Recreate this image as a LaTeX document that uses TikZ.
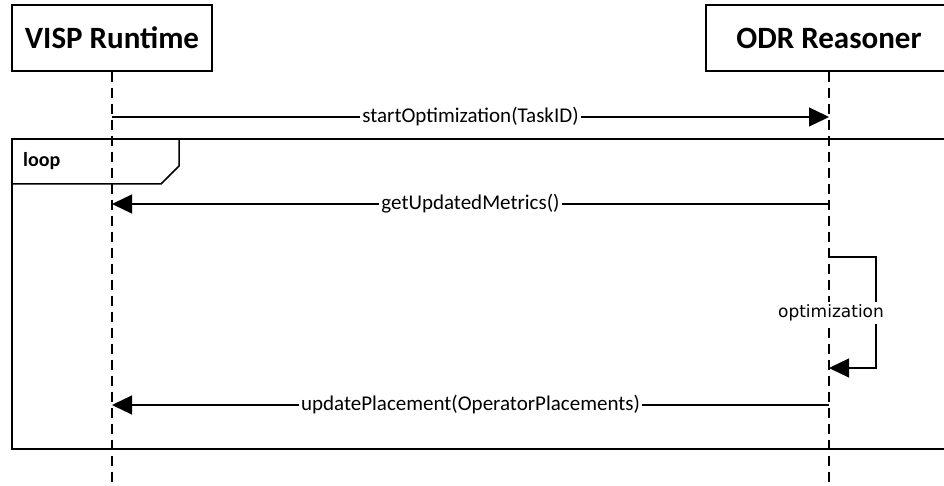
\documentclass[tikz,border=0pt]{standalone}
\usepackage{fontspec}
\setmainfont{Carlito}
\newfontfamily\selffont{DejaVu Sans}
\usetikzlibrary{arrows.meta}

\tikzset{
  actor/.style={draw, line width=1.3pt, fill=white, inner sep=0pt,
    minimum height=66pt, font=\fontsize{31}{35}\selectfont\bfseries},
  lifeline/.style={line width=1.3pt, dash pattern=on 10pt off 6pt},
  msg/.style={line width=1.3pt, -{Triangle[length=20pt,width=19pt]}},
  msglabel/.style={fill=white, inner xsep=2pt, inner ysep=1pt,
    font=\fontsize{21}{25}\selectfont},
  selflabel/.style={fill=white, inner xsep=1pt, inner ysep=3pt,
    font=\selffont\fontsize{17}{20}\selectfont},
  framebox/.style={line width=1.5pt},
  framelabel/.style={font=\fontsize{20}{24}\selectfont\bfseries, inner sep=0pt}
}

\begin{document}
\begin{tikzpicture}[x=1pt,y=-1pt]
\useasboundingbox (0,0) rectangle (944,486);

% participants
\node[actor, minimum width=200pt] (visp) at (112,38) {VISP Runtime};
\node[actor, minimum width=246pt] (odr) at (829,38) {ODR Reasoner};

% lifelines
\coordinate (vispend) at (112,486);
\coordinate (odrend) at (829,486);
\draw[lifeline] (visp.south) -- (vispend);
\draw[lifeline] (odr.south) -- (odrend);

% combined fragment
\coordinate (fragnw) at (12,139);
\coordinate (fragse) at (962,449);
\draw[framebox] (fragnw) rectangle (fragse);
\draw[framebox] (12,184) -- (161,184) -- (179,166) -- (179,139);
\node[framelabel, anchor=west] (looplbl) at (23,161) {loop};

% messages
\coordinate (v1) at (112,117);
\coordinate (o1) at (829,117);
\draw[msg] (v1) -- node[msglabel] (m1) {startOptimization(TaskID)} (o1);

\coordinate (v2) at (112,204);
\coordinate (o2) at (829,204);
\draw[msg] (o2) -- node[msglabel] (m2) {getUpdatedMetrics()} (v2);

% self call
\coordinate (s1) at (829,257);
\coordinate (s2) at (876,257);
\coordinate (s3) at (876,368);
\coordinate (s4) at (829,368);
\draw[msg] (s1) -- (s2) -- (s3) -- (s4);
\node[selflabel] (opt) at (831,313) {optimization};

\coordinate (v3) at (112,405);
\coordinate (o3) at (829,405);
\draw[msg] (o3) -- node[msglabel] (m3) {updatePlacement(OperatorPlacements)} (v3);
\end{tikzpicture}
\end{document}
